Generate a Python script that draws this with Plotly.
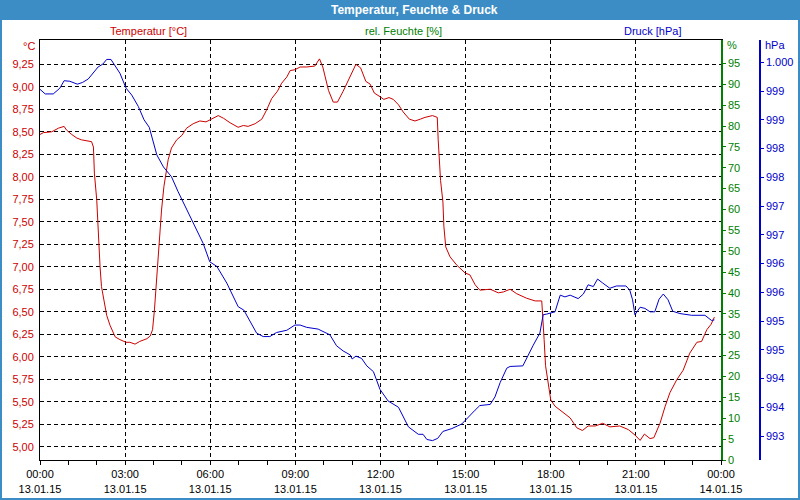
import pandas as pd
import plotly.graph_objects as go

# ---- data (minutes after 13.01.15 00:00) ----
temp_min = [0, 7, 25, 39, 51, 56, 67, 78, 88, 109, 113, 115, 120, 123, 127, 130, 136, 141, 148, 159,
            169, 182, 190, 201, 211, 226, 233, 238, 242, 245, 247, 250, 254, 257, 262, 266, 271, 278,
            289, 300, 310, 324, 338, 351, 363, 377, 388, 402, 419, 430, 440, 455, 469, 479, 490, 502,
            511, 522, 529, 539, 550, 564, 581, 591, 598, 610, 620, 629, 641, 656, 668, 678, 689, 698,
            707, 719, 727, 738, 747, 758, 768, 781, 793, 804, 814, 830, 840, 842, 844, 847, 852, 854,
            858, 867, 881, 899, 909, 920, 930, 952, 969, 980, 994, 1008, 1029, 1047, 1061, 1063, 1066,
            1069, 1075, 1080, 1089, 1103, 1121, 1135, 1147, 1159, 1174, 1190, 1205, 1226, 1244, 1258,
            1269, 1278, 1290, 1298, 1311, 1322, 1332, 1346, 1360, 1374, 1389, 1399, 1410, 1419, 1426]
temp_val = [8.47, 8.49, 8.50, 8.54, 8.56, 8.52, 8.47, 8.43, 8.41, 8.39, 8.33, 8.04, 7.74, 7.37, 7.00,
            6.78, 6.59, 6.46, 6.35, 6.22, 6.19, 6.16, 6.16, 6.14, 6.17, 6.20, 6.23, 6.30, 6.52, 6.74,
            6.93, 7.19, 7.45, 7.63, 7.89, 8.04, 8.19, 8.32, 8.41, 8.46, 8.54, 8.59, 8.62, 8.61, 8.64,
            8.68, 8.65, 8.60, 8.55, 8.57, 8.56, 8.59, 8.64, 8.74, 8.87, 8.95, 9.04, 9.11, 9.18, 9.19,
            9.22, 9.22, 9.23, 9.31, 9.22, 8.96, 8.83, 8.83, 8.95, 9.11, 9.25, 9.21, 9.06, 9.03, 8.93,
            8.89, 8.86, 8.88, 8.86, 8.80, 8.72, 8.64, 8.62, 8.64, 8.66, 8.68, 8.66, 8.41, 8.22, 7.96,
            7.72, 7.45, 7.22, 7.11, 7.02, 6.93, 6.91, 6.80, 6.74, 6.75, 6.71, 6.72, 6.75, 6.70, 6.65,
            6.62, 6.62, 6.48, 6.19, 5.90, 5.67, 5.52, 5.45, 5.39, 5.32, 5.21, 5.18, 5.23, 5.23, 5.26,
            5.22, 5.23, 5.19, 5.13, 5.07, 5.14, 5.09, 5.10, 5.26, 5.45, 5.60, 5.74, 5.85, 6.04, 6.16,
            6.17, 6.30, 6.36, 6.44]

press_min = [0, 11, 28, 42, 51, 63, 79, 90, 102, 113, 123, 133, 141, 150, 159, 169, 182, 194, 208, 220,
             231, 247, 261, 278, 292, 307, 324, 345, 359, 374, 395, 419, 431, 444, 458, 472, 486, 500,
             522, 539, 550, 564, 588, 613, 627, 641, 656, 660, 668, 680, 691, 705, 719, 736, 758, 779,
             800, 810, 818, 830, 841, 852, 871, 892, 904, 920, 930, 952, 962, 973, 987, 994, 1021, 1033,
             1043, 1057, 1064, 1071, 1089, 1100, 1110, 1121, 1138, 1149, 1159, 1170, 1179, 1190, 1205,
             1219, 1239, 1247, 1253, 1258, 1269, 1279, 1290, 1300, 1309, 1318, 1328, 1338, 1353, 1378,
             1406, 1420, 1426]
press_val = [999.53, 999.45, 999.45, 999.55, 999.68, 999.67, 999.62, 999.65, 999.71, 999.82, 999.92,
             999.97, 1000.05, 1000.05, 999.94, 999.81, 999.55, 999.43, 999.23, 999.00, 998.87, 998.39,
             998.18, 998.01, 997.75, 997.49, 997.20, 996.85, 996.53, 996.45, 996.16, 995.75, 995.69,
             995.49, 995.29, 995.23, 995.23, 995.30, 995.34, 995.43, 995.43, 995.39, 995.36, 995.26,
             995.07, 994.98, 994.91, 994.84, 994.89, 994.85, 994.72, 994.62, 994.31, 994.11, 994.00,
             993.66, 993.53, 993.53, 993.44, 993.42, 993.46, 993.58, 993.63, 993.71, 993.82, 993.95,
             994.03, 994.05, 994.18, 994.43, 994.68, 994.71, 994.72, 994.92, 995.08, 995.29, 995.61,
             995.62, 995.66, 995.95, 995.92, 995.95, 995.89, 995.97, 996.13, 996.10, 996.23, 996.16,
             996.07, 996.11, 996.11, 996.04, 995.87, 995.61, 995.74, 995.72, 995.66, 995.66, 995.88,
             995.97, 995.87, 995.67, 995.63, 995.60, 995.60, 995.51, 995.52]

hum_min = []
hum_val = []

temp_ticks = [5.00, 5.25, 5.50, 5.75, 6.00, 6.25, 6.50, 6.75, 7.00, 7.25, 7.50, 7.75, 8.00, 8.25, 8.50,
              8.75, 9.00, 9.25]
hum_ticks = list(range(0, 100, 5))
press_ticks = [993.5, 994.0, 994.5, 995.0, 995.5, 996.0, 996.5, 997.0, 997.5, 998.0, 998.5, 999.0,
               999.5, 1000.0]
press_labels = ["993", "994", "994", "995", "995", "996", "996", "997", "997", "998", "998", "999",
                "999", "1.000"]

title = "Temperatur, Feuchte & Druck"
series_names = ["Temperatur [°C]", "rel. Feuchte [%]", "Druck [hPa]"]

# ---- styling ----
RED = "#CC0000"
GREEN = "#008000"
BLUE = "#0000CC"
BAR = "#3C8DC6"
FONT = "Liberation Sans"

W, H = 800, 500
ML, MR, MT, MB = 40, 10, 40, 40
PW, PH = W - ML - MR, H - MT - MB


def px(x):
    return (x - ML) / PW


def py(y):
    return (H - MB - y) / PH


base = pd.Timestamp("2015-01-13")
t_temp = base + pd.to_timedelta(temp_min, unit="m")
t_press = base + pd.to_timedelta(press_min, unit="m")
t_hum = base + pd.to_timedelta(hum_min, unit="m")

fig = go.Figure()
fig.add_trace(go.Scatter(x=t_temp, y=temp_val, mode="lines", line=dict(color=RED, width=1),
                         name=series_names[0], yaxis="y"))
fig.add_trace(go.Scatter(x=t_hum, y=hum_val, mode="lines", line=dict(color=GREEN, width=1),
                         name=series_names[1], yaxis="y2"))
fig.add_trace(go.Scatter(x=t_press, y=press_val, mode="lines", line=dict(color=BLUE, width=1),
                         name=series_names[2], yaxis="y3"))

xdomain_end = px(721)

fig.update_layout(
    width=W, height=H,
    margin=dict(l=ML, r=MR, t=MT, b=MB, pad=0, autoexpand=False),
    paper_bgcolor="white", plot_bgcolor="white",
    showlegend=False,
    separators=",.",
    font=dict(family=FONT, size=11, color="black"),
    xaxis=dict(
        domain=[0, xdomain_end],
        range=[base, base + pd.Timedelta(hours=24)],
        type="date", automargin=False,
        tick0=base, dtick=3 * 3600 * 1000,
        tickformat="%H:%M<br>%d.%m.%y",
        ticks="outside", ticklen=4, tickcolor="black",
        minor=dict(dtick=3600 * 1000, ticks="outside", ticklen=4, tickcolor="black", showgrid=False),
        showgrid=True, gridcolor="black", griddash="4px,3px", gridwidth=1,
        showline=True, linecolor="black", linewidth=1, mirror=True,
        zeroline=False,
        tickfont=dict(family=FONT, size=11, color="black"),
    ),
    yaxis=dict(
        range=[4.852, 9.52], automargin=False,
        tickvals=temp_ticks, tickformat=".2f",
        ticks="", showgrid=True, gridcolor="black", griddash="4px,3px", gridwidth=1,
        showline=True, linecolor="black", linewidth=1,
        zeroline=False,
        tickfont=dict(family=FONT, size=11, color=RED),
        ticklabelstandoff=3,
    ),
    yaxis2=dict(
        range=[0, 100.6], overlaying="y", side="right", anchor="x", automargin=False,
        tickvals=hum_ticks, ticks="outside", ticklen=3, tickcolor=GREEN,
        showgrid=False, zeroline=False,
        showline=True, linecolor=GREEN, linewidth=1.5,
        tickfont=dict(family=FONT, size=11, color=GREEN),
    ),
    yaxis3=dict(
        range=[993.083, 1000.388], overlaying="y", side="right", anchor="free", position=px(760),
        automargin=False,
        tickvals=press_ticks, ticktext=press_labels, ticks="outside", ticklen=3, tickcolor=BLUE,
        showgrid=False, zeroline=False,
        showline=True, linecolor=BLUE, linewidth=1.5,
        tickfont=dict(family=FONT, size=11, color=BLUE),
    ),
)

shapes = [
    dict(type="rect", xref="paper", yref="paper", x0=px(0), x1=px(800), y0=py(0), y1=py(20),
         fillcolor=BAR, line=dict(width=0), layer="below"),
    dict(type="rect", xref="paper", yref="paper", x0=px(1), x1=px(799), y0=py(1), y1=py(499),
         fillcolor="rgba(0,0,0,0)", line=dict(width=2, color=BAR), layer="above"),
]
fig.update_layout(shapes=shapes)

ann = [
    dict(text=f"<b>{title}</b>", x=px(414), y=py(10), font=dict(family=FONT, size=12, color="white"),
         xanchor="center", yanchor="middle"),
    dict(text=series_names[0], x=px(148), y=py(31), font=dict(family=FONT, size=11, color=RED),
         xanchor="center", yanchor="middle"),
    dict(text=series_names[1], x=px(403), y=py(31), font=dict(family=FONT, size=11, color=GREEN),
         xanchor="center", yanchor="middle"),
    dict(text=series_names[2], x=px(652), y=py(31), font=dict(family=FONT, size=11, color=BLUE),
         xanchor="center", yanchor="middle"),
    dict(text="°C", x=px(37), y=py(46), font=dict(family=FONT, size=11, color=RED),
         xanchor="right", yanchor="middle"),
    dict(text="%", x=px(725), y=py(45), font=dict(family=FONT, size=11, color=GREEN),
         xanchor="left", yanchor="middle"),
    dict(text="hPa", x=px(763), y=py(45), font=dict(family=FONT, size=11, color=BLUE),
         xanchor="left", yanchor="middle"),
]
for a in ann:
    a.update(xref="paper", yref="paper", showarrow=False)
fig.update_layout(annotations=ann)

fig.write_html("out.html")
